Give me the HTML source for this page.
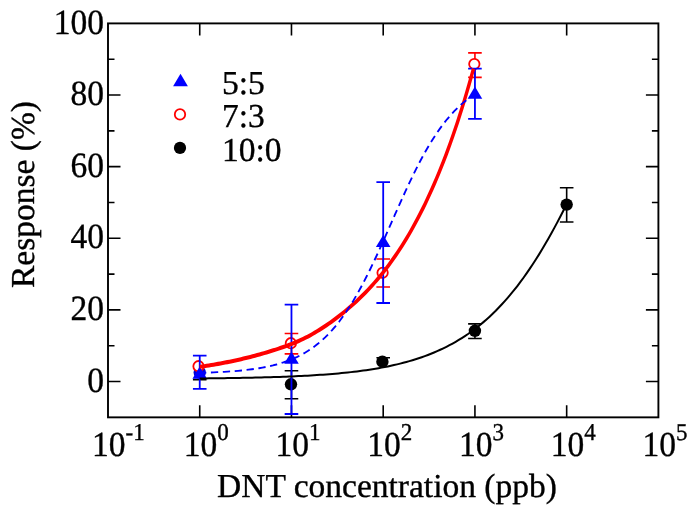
<!DOCTYPE html>
<html><head><meta charset="utf-8"><style>
html,body{margin:0;padding:0;background:#fff;}
svg{display:block;will-change:transform;}
text{text-rendering:geometricPrecision;}
text{font-family:"Liberation Serif",serif;font-size:33.5px;fill:#000;stroke:#000;stroke-width:0.35px;}
.sup{font-size:23px;}
</style></head><body>
<svg width="695" height="514" viewBox="0 0 695 514">
<rect width="695" height="514" fill="#fff"/>
<path d="M108,381.54h12.5M658.4,381.54h-12.5M108,345.72h6.5M658.4,345.72h-6.5M108,309.91h12.5M658.4,309.91h-12.5M108,274.10h6.5M658.4,274.10h-6.5M108,238.28h12.5M658.4,238.28h-12.5M108,202.47h6.5M658.4,202.47h-6.5M108,166.65h12.5M658.4,166.65h-12.5M108,130.84h6.5M658.4,130.84h-6.5M108,95.03h12.5M658.4,95.03h-12.5M108,59.21h6.5M658.4,59.21h-6.5M199.73,417.35v-12M199.73,23.4v12M291.47,417.35v-12M291.47,23.4v12M383.20,417.35v-12M383.20,23.4v12M474.93,417.35v-12M474.93,23.4v12M566.67,417.35v-12M566.67,23.4v12" stroke="#000" stroke-width="1.6" fill="none"/>
<rect x="108.0" y="23.4" width="550.40" height="393.95" fill="none" stroke="#000" stroke-width="1.9"/>
<text transform="translate(104,391.74) scale(1,1.06)" text-anchor="end">0</text>
<text transform="translate(104,320.11) scale(1,1.06)" text-anchor="end">20</text>
<text transform="translate(104,248.48) scale(1,1.06)" text-anchor="end">40</text>
<text transform="translate(104,176.85) scale(1,1.06)" text-anchor="end">60</text>
<text transform="translate(104,105.23) scale(1,1.06)" text-anchor="end">80</text>
<text transform="translate(104,33.60) scale(1,1.06)" text-anchor="end">100</text>
<text transform="translate(92.10,456) scale(1,1.05)">10<tspan class="sup" dy="-15">-1</tspan></text>
<text transform="translate(183.83,456) scale(1,1.05)">10<tspan class="sup" dy="-15">0</tspan></text>
<text transform="translate(275.57,456) scale(1,1.05)">10<tspan class="sup" dy="-15">1</tspan></text>
<text transform="translate(367.30,456) scale(1,1.05)">10<tspan class="sup" dy="-15">2</tspan></text>
<text transform="translate(459.03,456) scale(1,1.05)">10<tspan class="sup" dy="-15">3</tspan></text>
<text transform="translate(550.77,456) scale(1,1.05)">10<tspan class="sup" dy="-15">4</tspan></text>
<text transform="translate(642.50,456) scale(1,1.05)">10<tspan class="sup" dy="-15">5</tspan></text>
<text x="387" y="497" text-anchor="middle">DNT concentration (ppb)</text>
<text transform="translate(33.5,194.5) rotate(-90)" text-anchor="middle">Response (%)</text>
<path d="M180.50,73.84L187.90,86.24L173.10,86.24Z" fill="#0000ff"/>

<circle cx="180.00" cy="114.40" r="5.2" fill="none" stroke="#ff0000" stroke-width="1.8"/>

<circle cx="180.00" cy="147.90" r="6.1" fill="#000" stroke="none" stroke-width="0"/>

<text x="222" y="94.4">5:5</text>
<text x="222" y="127">7:3</text>
<text x="222" y="161">10:0</text>
<path d="M199.73,372.50V379.60M192.93,379.60h13.6" stroke="#000" stroke-width="1.6" fill="none"/>
<path d="M291.47,370.80V398.80M284.67,370.80h13.6M284.67,398.80h13.6" stroke="#000" stroke-width="1.6" fill="none"/>
<path d="M383.20,357.80V361.70M376.40,357.80h13.6" stroke="#000" stroke-width="1.6" fill="none"/>
<path d="M474.93,323.90V338.50M468.13,323.90h13.6M468.13,338.50h13.6" stroke="#000" stroke-width="1.6" fill="none"/>
<path d="M566.67,187.70V222.00M559.87,187.70h13.6M559.87,222.00h13.6" stroke="#000" stroke-width="1.6" fill="none"/>
<circle cx="199.73" cy="372.50" r="6.2" fill="#0000d0" stroke="none" stroke-width="0"/>
<circle cx="290.97" cy="384.30" r="6.2" fill="#000" stroke="none" stroke-width="0"/>
<circle cx="382.40" cy="361.70" r="6.2" fill="#000" stroke="none" stroke-width="0"/>
<circle cx="474.93" cy="330.80" r="6.2" fill="#000" stroke="none" stroke-width="0"/>
<circle cx="566.67" cy="204.60" r="6.2" fill="#000" stroke="none" stroke-width="0"/>
<path d="M291.47,333.50V353.90M284.67,333.50h13.6M284.67,353.90h13.6" stroke="#ff0000" stroke-width="1.6" fill="none"/>
<path d="M383.20,259.00V287.00M376.40,259.00h13.6M376.40,287.00h13.6" stroke="#ff0000" stroke-width="1.6" fill="none"/>
<path d="M474.93,52.90V77.40M468.13,52.90h13.6M468.13,77.40h13.6" stroke="#ff0000" stroke-width="1.6" fill="none"/>
<circle cx="198.53" cy="366.20" r="5.2" fill="#fff" stroke="#ff0000" stroke-width="1.8"/>
<circle cx="290.87" cy="343.20" r="5.2" fill="#fff" stroke="#ff0000" stroke-width="1.8"/>
<circle cx="382.60" cy="272.80" r="5.2" fill="#fff" stroke="#ff0000" stroke-width="1.8"/>
<circle cx="474.33" cy="64.00" r="5.2" fill="#fff" stroke="#ff0000" stroke-width="1.8"/>
<path d="M199.73,355.70V388.90M192.93,355.70h13.6M192.93,388.90h13.6" stroke="#0000ff" stroke-width="1.8" fill="none"/>
<path d="M291.47,304.70V414.00M284.67,304.70h13.6M284.67,414.00h13.6" stroke="#0000ff" stroke-width="1.8" fill="none"/>
<path d="M383.20,182.20V303.00M376.40,182.20h13.6M376.40,303.00h13.6" stroke="#0000ff" stroke-width="1.8" fill="none"/>
<path d="M474.93,68.70V118.90M468.13,68.70h13.6M468.13,118.90h13.6" stroke="#0000ff" stroke-width="1.8" fill="none"/>
<path d="M199.73,366.50L207.03,378.70L192.43,378.70Z" fill="#0000ff"/>
<path d="M291.47,351.50L298.77,363.70L284.17,363.70Z" fill="#0000ff"/>
<path d="M383.20,234.90L390.50,247.10L375.90,247.10Z" fill="#0000ff"/>
<path d="M474.93,86.50L482.23,98.70L467.63,98.70Z" fill="#0000ff"/>

<path d="M199.73,378.45 L202.82,378.42 L205.90,378.39 L208.98,378.36 L212.07,378.32 L215.15,378.29 L218.23,378.25 L221.32,378.21 L224.40,378.17 L227.48,378.12 L230.57,378.08 L233.65,378.03 L236.74,377.97 L239.82,377.92 L242.90,377.86 L245.99,377.80 L249.07,377.74 L252.15,377.67 L255.24,377.60 L258.32,377.52 L261.40,377.45 L264.49,377.36 L267.57,377.28 L270.65,377.19 L273.74,377.09 L276.82,376.99 L279.90,376.88 L282.99,376.77 L286.07,376.65 L289.15,376.53 L292.24,376.40 L295.32,376.26 L298.40,376.12 L301.49,375.97 L304.57,375.81 L307.65,375.64 L310.74,375.46 L313.82,375.28 L316.91,375.08 L319.99,374.87 L323.07,374.66 L326.16,374.43 L329.24,374.19 L332.32,373.94 L335.41,373.68 L338.49,373.40 L341.57,373.10 L344.66,372.80 L347.74,372.47 L350.82,372.13 L353.91,371.78 L356.99,371.40 L360.07,371.00 L363.16,370.59 L366.24,370.15 L369.32,369.69 L372.41,369.21 L375.49,368.70 L378.57,368.17 L381.66,367.61 L384.74,367.03 L387.83,366.41 L390.91,365.76 L393.99,365.08 L397.08,364.37 L400.16,363.62 L403.24,362.83 L406.33,362.00 L409.41,361.13 L412.49,360.22 L415.58,359.27 L418.66,358.27 L421.74,357.22 L424.83,356.12 L427.91,354.96 L430.99,353.75 L434.08,352.49 L437.16,351.16 L440.24,349.77 L443.33,348.31 L446.41,346.79 L449.49,345.19 L452.58,343.52 L455.66,341.78 L458.75,339.95 L461.83,338.04 L464.91,336.05 L468.00,333.97 L471.08,331.79 L474.16,329.52 L477.25,327.16 L480.33,324.69 L483.41,322.11 L486.50,319.43 L489.58,316.64 L492.66,313.73 L495.75,310.71 L498.83,307.56 L501.91,304.30 L505.00,300.90 L508.08,297.38 L511.16,293.73 L514.25,289.94 L517.33,286.02 L520.41,281.96 L523.50,277.76 L526.58,273.41 L529.66,268.93 L532.75,264.30 L535.83,259.53 L538.92,254.61 L542.00,249.55 L545.08,244.35 L548.17,239.00 L551.25,233.51 L554.33,227.88 L557.42,222.12 L560.50,216.22 L563.58,210.19 L566.67,204.03" stroke="#000" stroke-width="2" fill="none"/>
<path transform="scale(1,1.2)" d="M199.73,305.705 L202.03,305.424 L204.33,305.136 L206.64,304.840 L208.94,304.535 L211.24,304.223 L213.54,303.902 L215.84,303.571 L218.14,303.232 L220.44,302.884 L222.74,302.526 L225.04,302.158 L227.34,301.780 L229.64,301.392 L231.94,300.994 L234.24,300.584 L236.54,300.165 L238.84,299.734 L241.15,299.292 L243.45,298.838 L245.75,298.374 L248.05,297.899 L250.35,297.412 L252.65,296.914 L254.95,296.405 L257.25,295.886 L259.55,295.355 L261.85,294.814 L264.15,294.263 L266.45,293.700 L268.75,293.127 L271.05,292.542 L273.35,291.946 L275.66,291.336 L277.96,290.713 L280.26,290.074 L282.56,289.418 L284.86,288.743 L287.16,288.046 L289.46,287.325 L291.76,286.579 L294.06,285.803 L296.36,284.997 L298.66,284.157 L300.96,283.282 L303.26,282.370 L305.56,281.420 L307.87,280.431 L310.17,279.402 L312.47,278.334 L314.77,277.227 L317.07,276.082 L319.37,274.899 L321.67,273.680 L323.97,272.426 L326.27,271.137 L328.57,269.815 L330.87,268.460 L333.17,267.072 L335.47,265.652 L337.77,264.199 L340.07,262.713 L342.38,261.193 L344.68,259.638 L346.98,258.047 L349.28,256.419 L351.58,254.751 L353.88,253.042 L356.18,251.291 L358.48,249.495 L360.78,247.653 L363.08,245.763 L365.38,243.823 L367.68,241.831 L369.98,239.786 L372.28,237.685 L374.58,235.527 L376.89,233.311 L379.19,231.034 L381.49,228.694 L383.79,226.290 L386.09,223.820 L388.39,221.282 L390.69,218.675 L392.99,215.995 L395.29,213.242 L397.59,210.413 L399.89,207.505 L402.19,204.518 L404.49,201.449 L406.79,198.294 L409.09,195.053 L411.40,191.723 L413.70,188.300 L416.00,184.784 L418.30,181.170 L420.60,177.457 L422.90,173.641 L425.20,169.720 L427.50,165.692 L429.80,161.552 L432.10,157.298 L434.40,152.926 L436.70,148.435 L439.00,143.819 L441.30,139.076 L443.60,134.203 L445.91,129.195 L448.21,124.049 L450.51,118.761 L452.81,113.328 L455.11,107.745 L457.41,102.007 L459.71,96.112 L462.01,90.054 L464.31,83.830 L466.61,77.433 L468.91,70.861 L471.21,64.107 L473.51,57.167" stroke="#ff0000" stroke-width="3.4" fill="none"/>
<path d="M199.73,372.85 L203.22,372.75 L206.70,372.63 L210.18,372.50 L213.67,372.35 L217.15,372.19 L220.63,372.02 L224.12,371.82 L227.60,371.60 L231.09,371.36 L234.57,371.09 L238.05,370.80 L241.54,370.47 L245.02,370.10 L248.50,369.70 L251.99,369.26 L255.47,368.76 L258.95,368.22 L262.44,367.61 L265.92,366.95 L269.40,366.21 L272.89,365.40 L276.37,364.50 L279.85,363.51 L283.34,362.42 L286.82,361.22 L290.31,359.89 L293.79,358.44 L297.27,356.84 L300.76,355.09 L304.24,353.17 L307.72,351.07 L311.21,348.78 L314.69,346.27 L318.17,343.55 L321.66,340.58 L325.14,337.36 L328.62,333.88 L332.11,330.12 L335.59,326.07 L339.08,321.73 L342.56,317.07 L346.04,312.10 L349.53,306.81 L353.01,301.21 L356.49,295.29 L359.98,289.07 L363.46,282.56 L366.94,275.77 L370.43,268.73 L373.91,261.46 L377.39,253.99 L380.88,246.36 L384.36,238.60 L387.84,230.75 L391.33,222.86 L394.81,214.97 L398.30,207.12 L401.78,199.35 L405.26,191.70 L408.75,184.21 L412.23,176.92 L415.71,169.86 L419.20,163.04 L422.68,156.50 L426.16,150.25 L429.65,144.30 L433.13,138.67 L436.61,133.35 L440.10,128.35 L443.58,123.66 L447.06,119.28 L450.55,115.20 L454.03,111.41 L457.52,107.90 L461.00,104.66 L464.48,101.67 L467.97,98.92 L471.45,96.40 L474.93,94.08" stroke="#0000ff" stroke-width="1.85" fill="none" stroke-dasharray="7.3 4.62" stroke-dashoffset="0.73"/>
</svg>
</body></html>
